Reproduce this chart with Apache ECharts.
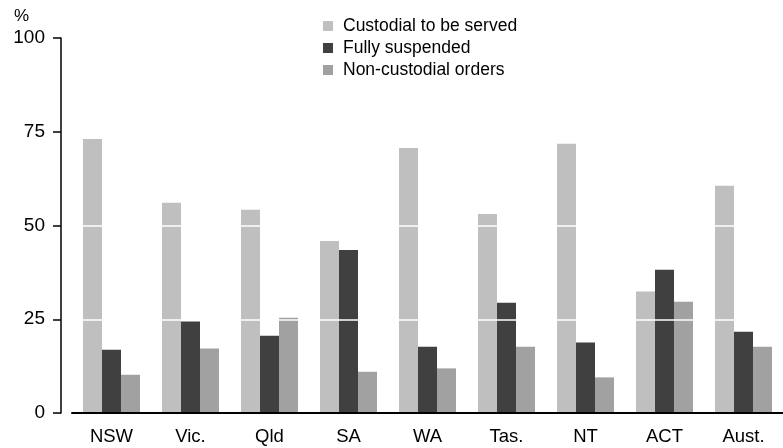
<!DOCTYPE html>
<html>
<head>
<meta charset="utf-8">
<script src="https://cdn.jsdelivr.net/npm/echarts@6/dist/echarts.min.js"></script>
<style>
html,body{margin:0;padding:0;background:#fff;}
#chart{width:783px;height:448px;}
</style>
</head>
<body>
<div id="chart"></div>
<script>
const categories = ['NSW', 'Vic.', 'Qld', 'SA', 'WA', 'Tas.', 'NT', 'ACT', 'Aust.'];
const custodial = [73.1, 56.1, 54.2, 45.9, 70.7, 53.1, 71.8, 32.4, 60.6];
const suspended = [16.9, 24.4, 20.6, 43.5, 17.7, 29.4, 18.8, 38.2, 21.7];
const nonCustodial = [10.2, 17.2, 25.4, 11.0, 11.9, 17.7, 9.5, 29.7, 17.7];
const yTicks = [0, 25, 50, 75, 100];

const font = 'Liberation Sans, Arial, sans-serif';
const chart = echarts.init(document.getElementById('chart'), null, {renderer: 'canvas'});
chart.setOption({
  animation: false,
  backgroundColor: '#ffffff',
  textStyle: {fontFamily: font, color: '#000'},
  grid: {left: 72, right: -9, top: 38, bottom: 35, containLabel: false},
  legend: {
    orient: 'vertical',
    left: 323,
    top: 17,
    padding: 0,
    itemWidth: 10,
    itemHeight: 10,
    itemGap: 4,
    icon: 'rect',
    textStyle: {fontFamily: font, fontSize: 17.5, color: '#000', padding: [0, 0, 0, 5]},
    data: ['Custodial to be served', 'Fully suspended', 'Non-custodial orders']
  },
  graphic: [{
    type: 'text',
    left: 14,
    top: 8,
    style: {text: '%', font: '17px ' + font, fill: '#000'}
  }],
  xAxis: {
    type: 'category',
    data: categories,
    z: 11,
    axisLine: {lineStyle: {color: '#000', width: 2}},
    axisTick: {alignWithLabel: true, length: 6, lineStyle: {color: '#000', width: 1.5}},
    axisLabel: {fontSize: 18.5, color: '#000', margin: 14, fontFamily: font}
  },
  yAxis: {
    type: 'value',
    min: 0,
    max: 100,
    interval: 25,
    offset: 11,
    z: 10,
    axisLine: {show: true, lineStyle: {color: '#000', width: 1.5}},
    axisTick: {show: true, length: 8, lineStyle: {color: '#000', width: 1.5}},
    axisLabel: {fontSize: 19, color: '#000', margin: 16, fontFamily: font,
      formatter: v => yTicks.includes(v) ? String(v) : ''},
    splitLine: {show: true, showMinLine: false, showMaxLine: false, lineStyle: {color: '#ffffff', width: 1.5}}
  },
  series: [
    {name: 'Custodial to be served', type: 'bar', data: custodial, barWidth: 19, barGap: '0%', itemStyle: {color: '#bfbfbf'}},
    {name: 'Fully suspended', type: 'bar', data: suspended, barWidth: 19, barGap: '0%', itemStyle: {color: '#404040'}},
    {name: 'Non-custodial orders', type: 'bar', data: nonCustodial, barWidth: 19, barGap: '0%', itemStyle: {color: '#a1a1a1'}}
  ]
});
</script>
</body>
</html>
